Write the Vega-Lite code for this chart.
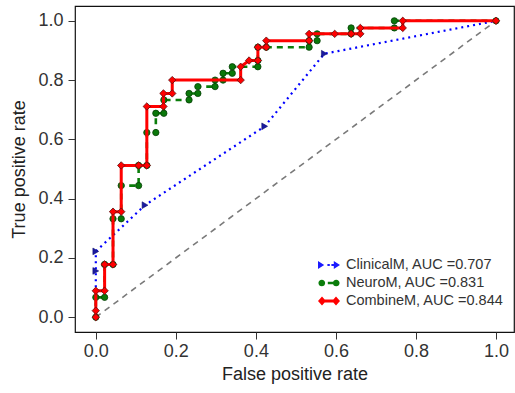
{
  "$schema": "https://vega.github.io/schema/vega-lite/v6.json",
  "width": 439,
  "height": 326,
  "autosize": {"type": "none"},
  "padding": {"left": 75, "top": 6, "right": 1, "bottom": 61},
  "background": "white",
  "config": {
    "view": {"stroke": "#111111", "strokeWidth": 1.2},
    "font": "Liberation Sans",
    "axis": {
      "grid": false,
      "domain": false,
      "tickSize": 7,
      "tickColor": "#333333",
      "tickWidth": 1,
      "labelFontSize": 18,
      "labelColor": "#333333",
      "titleFontSize": 18,
      "titleFontWeight": "normal",
      "titleColor": "#222222"
    }
  },
  "datasets": {
    "auc": [
      {"model": "ClinicalM", "auc": 0.707},
      {"model": "NeuroM", "auc": 0.831},
      {"model": "CombineM", "auc": 0.844}
    ],
    "roc": [
      {"model": "ClinicalM", "i": 0, "fpr": 0, "tpr": 0},
      {"model": "ClinicalM", "i": 1, "fpr": 0, "tpr": 0.156},
      {"model": "ClinicalM", "i": 2, "fpr": 0, "tpr": 0.222},
      {"model": "ClinicalM", "i": 3, "fpr": 0.123, "tpr": 0.378},
      {"model": "ClinicalM", "i": 4, "fpr": 0.422, "tpr": 0.644},
      {"model": "ClinicalM", "i": 5, "fpr": 0.571, "tpr": 0.889},
      {"model": "ClinicalM", "i": 6, "fpr": 1, "tpr": 1},

      {"model": "NeuroM", "i": 0, "fpr": 0, "tpr": 0},
      {"model": "NeuroM", "i": 1, "fpr": 0, "tpr": 0.067},
      {"model": "NeuroM", "i": 2, "fpr": 0.022, "tpr": 0.067},
      {"model": "NeuroM", "i": 3, "fpr": 0.022, "tpr": 0.178},
      {"model": "NeuroM", "i": 4, "fpr": 0.043, "tpr": 0.178},
      {"model": "NeuroM", "i": 5, "fpr": 0.043, "tpr": 0.332},
      {"model": "NeuroM", "i": 6, "fpr": 0.0635, "tpr": 0.332},
      {"model": "NeuroM", "i": 7, "fpr": 0.0635, "tpr": 0.444},
      {"model": "NeuroM", "i": 8, "fpr": 0.107, "tpr": 0.444},
      {"model": "NeuroM", "i": 9, "fpr": 0.107, "tpr": 0.512},
      {"model": "NeuroM", "i": 10, "fpr": 0.1275, "tpr": 0.512},
      {"model": "NeuroM", "i": 11, "fpr": 0.1275, "tpr": 0.623},
      {"model": "NeuroM", "i": 12, "fpr": 0.15, "tpr": 0.623},
      {"model": "NeuroM", "i": 13, "fpr": 0.15, "tpr": 0.688},
      {"model": "NeuroM", "i": 14, "fpr": 0.17, "tpr": 0.688},
      {"model": "NeuroM", "i": 15, "fpr": 0.17, "tpr": 0.733},
      {"model": "NeuroM", "i": 16, "fpr": 0.233, "tpr": 0.733},
      {"model": "NeuroM", "i": 17, "fpr": 0.233, "tpr": 0.755},
      {"model": "NeuroM", "i": 18, "fpr": 0.255, "tpr": 0.755},
      {"model": "NeuroM", "i": 19, "fpr": 0.255, "tpr": 0.778},
      {"model": "NeuroM", "i": 20, "fpr": 0.298, "tpr": 0.778},
      {"model": "NeuroM", "i": 21, "fpr": 0.298, "tpr": 0.8},
      {"model": "NeuroM", "i": 22, "fpr": 0.318, "tpr": 0.8},
      {"model": "NeuroM", "i": 23, "fpr": 0.318, "tpr": 0.823},
      {"model": "NeuroM", "i": 24, "fpr": 0.341, "tpr": 0.823},
      {"model": "NeuroM", "i": 25, "fpr": 0.341, "tpr": 0.845},
      {"model": "NeuroM", "i": 26, "fpr": 0.405, "tpr": 0.845},
      {"model": "NeuroM", "i": 27, "fpr": 0.405, "tpr": 0.866},
      {"model": "NeuroM", "i": 28, "fpr": 0.405, "tpr": 0.911},
      {"model": "NeuroM", "i": 29, "fpr": 0.426, "tpr": 0.911},
      {"model": "NeuroM", "i": 30, "fpr": 0.533, "tpr": 0.911},
      {"model": "NeuroM", "i": 31, "fpr": 0.533, "tpr": 0.933},
      {"model": "NeuroM", "i": 32, "fpr": 0.553, "tpr": 0.933},
      {"model": "NeuroM", "i": 33, "fpr": 0.553, "tpr": 0.956},
      {"model": "NeuroM", "i": 34, "fpr": 0.638, "tpr": 0.956},
      {"model": "NeuroM", "i": 35, "fpr": 0.638, "tpr": 0.976},
      {"model": "NeuroM", "i": 36, "fpr": 0.746, "tpr": 0.976},
      {"model": "NeuroM", "i": 37, "fpr": 0.746, "tpr": 1},
      {"model": "NeuroM", "i": 38, "fpr": 1, "tpr": 1},

      {"model": "CombineM", "i": 0, "fpr": 0, "tpr": 0},
      {"model": "CombineM", "i": 1, "fpr": 0, "tpr": 0.022},
      {"model": "CombineM", "i": 2, "fpr": 0, "tpr": 0.089},
      {"model": "CombineM", "i": 3, "fpr": 0.022, "tpr": 0.089},
      {"model": "CombineM", "i": 4, "fpr": 0.022, "tpr": 0.178},
      {"model": "CombineM", "i": 5, "fpr": 0.043, "tpr": 0.178},
      {"model": "CombineM", "i": 6, "fpr": 0.043, "tpr": 0.356},
      {"model": "CombineM", "i": 7, "fpr": 0.0635, "tpr": 0.356},
      {"model": "CombineM", "i": 8, "fpr": 0.0635, "tpr": 0.512},
      {"model": "CombineM", "i": 9, "fpr": 0.107, "tpr": 0.512},
      {"model": "CombineM", "i": 10, "fpr": 0.1275, "tpr": 0.512},
      {"model": "CombineM", "i": 11, "fpr": 0.1275, "tpr": 0.711},
      {"model": "CombineM", "i": 12, "fpr": 0.169, "tpr": 0.711},
      {"model": "CombineM", "i": 13, "fpr": 0.169, "tpr": 0.755},
      {"model": "CombineM", "i": 14, "fpr": 0.191, "tpr": 0.755},
      {"model": "CombineM", "i": 15, "fpr": 0.191, "tpr": 0.8},
      {"model": "CombineM", "i": 16, "fpr": 0.362, "tpr": 0.8},
      {"model": "CombineM", "i": 17, "fpr": 0.362, "tpr": 0.845},
      {"model": "CombineM", "i": 18, "fpr": 0.383, "tpr": 0.866},
      {"model": "CombineM", "i": 19, "fpr": 0.405, "tpr": 0.866},
      {"model": "CombineM", "i": 20, "fpr": 0.405, "tpr": 0.911},
      {"model": "CombineM", "i": 21, "fpr": 0.426, "tpr": 0.911},
      {"model": "CombineM", "i": 22, "fpr": 0.426, "tpr": 0.933},
      {"model": "CombineM", "i": 23, "fpr": 0.533, "tpr": 0.933},
      {"model": "CombineM", "i": 24, "fpr": 0.533, "tpr": 0.956},
      {"model": "CombineM", "i": 25, "fpr": 0.597, "tpr": 0.956},
      {"model": "CombineM", "i": 26, "fpr": 0.638, "tpr": 0.956},
      {"model": "CombineM", "i": 27, "fpr": 0.661, "tpr": 0.956},
      {"model": "CombineM", "i": 28, "fpr": 0.661, "tpr": 0.976},
      {"model": "CombineM", "i": 29, "fpr": 0.767, "tpr": 0.976},
      {"model": "CombineM", "i": 30, "fpr": 0.767, "tpr": 1},
      {"model": "CombineM", "i": 31, "fpr": 1, "tpr": 1}
    ],
    "diag": [
      {"i": 0, "fpr": 0, "tpr": 0},
      {"i": 1, "fpr": 1, "tpr": 1}
    ]
  },
  "encoding": {
    "x": {
      "field": "fpr",
      "type": "quantitative",
      "scale": {"domain": [-0.052, 1.045], "nice": false, "zero": false},
      "axis": {
        "values": [0, 0.2, 0.4, 0.6, 0.8, 1],
        "format": ".1f",
        "title": "False positive rate",
        "labelPadding": 3,
        "titlePadding": 5
      }
    },
    "y": {
      "field": "tpr",
      "type": "quantitative",
      "scale": {"domain": [-0.05, 1.05], "nice": false, "zero": false},
      "axis": {
        "values": [0, 0.2, 0.4, 0.6, 0.8, 1],
        "format": ".1f",
        "title": "True positive rate",
        "labelPadding": 5,
        "titlePadding": 9
      }
    }
  },
  "layer": [
    {
      "data": {"name": "diag"},
      "mark": {"type": "line", "color": "#7a7a7a", "strokeWidth": 1.6, "strokeDash": [6, 5]},
      "encoding": {"order": {"field": "i"}}
    },
    {
      "data": {"name": "roc"},
      "transform": [{"filter": "datum.model === 'ClinicalM'"}],
      "mark": {"type": "line", "color": "#0000ff", "strokeWidth": 2.2, "strokeDash": [2, 4]},
      "encoding": {"order": {"field": "i"}}
    },
    {
      "data": {"name": "roc"},
      "transform": [{"filter": "datum.model === 'ClinicalM' && datum.i > 0 && datum.i < 6"}],
      "mark": {"type": "point", "shape": "triangle-right", "filled": true, "size": 45, "fill": "#1a1aa0", "stroke": "#101070", "strokeWidth": 0.6, "opacity": 1}
    },
    {
      "data": {"name": "roc"},
      "transform": [{"filter": "datum.model === 'NeuroM'"}],
      "mark": {"type": "line", "color": "#0a7d0a", "strokeWidth": 2.6, "strokeDash": [6, 5]},
      "encoding": {"order": {"field": "i"}}
    },
    {
      "data": {"name": "roc"},
      "transform": [{"filter": "datum.model === 'NeuroM'"}],
      "mark": {"type": "point", "shape": "circle", "filled": true, "size": 40, "fill": "#0a780a", "stroke": "#064006", "strokeWidth": 0.8, "opacity": 1}
    },
    {
      "data": {"name": "roc"},
      "transform": [{"filter": "datum.model === 'CombineM'"}],
      "mark": {"type": "line", "color": "#ff0000", "strokeWidth": 3},
      "encoding": {"order": {"field": "i"}}
    },
    {
      "data": {"name": "roc"},
      "transform": [{"filter": "datum.model === 'CombineM'"}],
      "mark": {"type": "point", "shape": "diamond", "filled": true, "size": 55, "fill": "#ff0000", "stroke": "#5a1010", "strokeWidth": 0.8, "opacity": 1}
    },
    {
      "data": {"name": "roc"},
      "transform": [
        {"filter": "datum.i === 0"},
        {"lookup": "model", "from": {"data": {"name": "auc"}, "key": "model", "fields": ["auc"]}},
        {"calculate": "datum.model + ', AUC =' + format(datum.auc, '.3f')", "as": "label"}
      ],
      "mark": {"type": "point", "filled": true, "opacity": 0, "size": 10},
      "encoding": {
        "shape": {
          "field": "label",
          "type": "nominal",
          "scale": {
            "domain": ["ClinicalM, AUC =0.707", "NeuroM, AUC =0.831", "CombineM, AUC =0.844"],
            "range": [
              "M-1.375,-0.5L-0.6,0L-1.375,0.5Z M-0.2,-0.14L0.1,-0.14L0.1,0.14L-0.2,0.14Z M0.3,-0.14L0.8,-0.14L0.8,0.14L0.3,0.14Z M0.6,-0.5L1.375,0L0.6,0.5Z",
              "M-1.32,0A0.42,0.42 0 1,1 -0.48,0A0.42,0.42 0 1,1 -1.32,0Z M0.48,0A0.42,0.42 0 1,1 1.32,0A0.42,0.42 0 1,1 0.48,0Z M-0.9,-0.16L-0.55,-0.16L-0.55,0.16L-0.9,0.16Z M-0.15,-0.16L0.9,-0.16L0.9,0.16L-0.15,0.16Z",
              "M-1.375,0L-0.875,-0.55L-0.375,0L-0.875,0.55Z M0.375,0L0.875,-0.55L1.375,0L0.875,0.55Z M-0.875,-0.18L0.875,-0.18L0.875,0.18L-0.875,0.18Z"
            ]
          },
          "legend": {
            "title": null,
            "orient": "none",
            "legendX": 246,
            "legendY": 251,
            "padding": 0,
            "symbolSize": 256,
            "symbolOpacity": 1,
            "symbolStrokeWidth": 0,
            "labelFontSize": 14.5,
            "labelColor": "#333333",
            "labelOffset": 9,
            "labelLimit": 300,
            "rowPadding": 3
          }
        },
        "color": {
          "field": "label",
          "type": "nominal",
          "scale": {
            "domain": ["ClinicalM, AUC =0.707", "NeuroM, AUC =0.831", "CombineM, AUC =0.844"],
            "range": ["#1a1aff", "#0a7d0a", "#ff0000"]
          },
          "legend": {
            "title": null,
            "orient": "none",
            "legendX": 246,
            "legendY": 251,
            "padding": 0,
            "symbolSize": 256,
            "symbolOpacity": 1,
            "symbolStrokeWidth": 0,
            "labelFontSize": 14.5,
            "labelColor": "#333333",
            "labelOffset": 9,
            "labelLimit": 300,
            "rowPadding": 3
          }
        }
      }
    }
  ]
}
